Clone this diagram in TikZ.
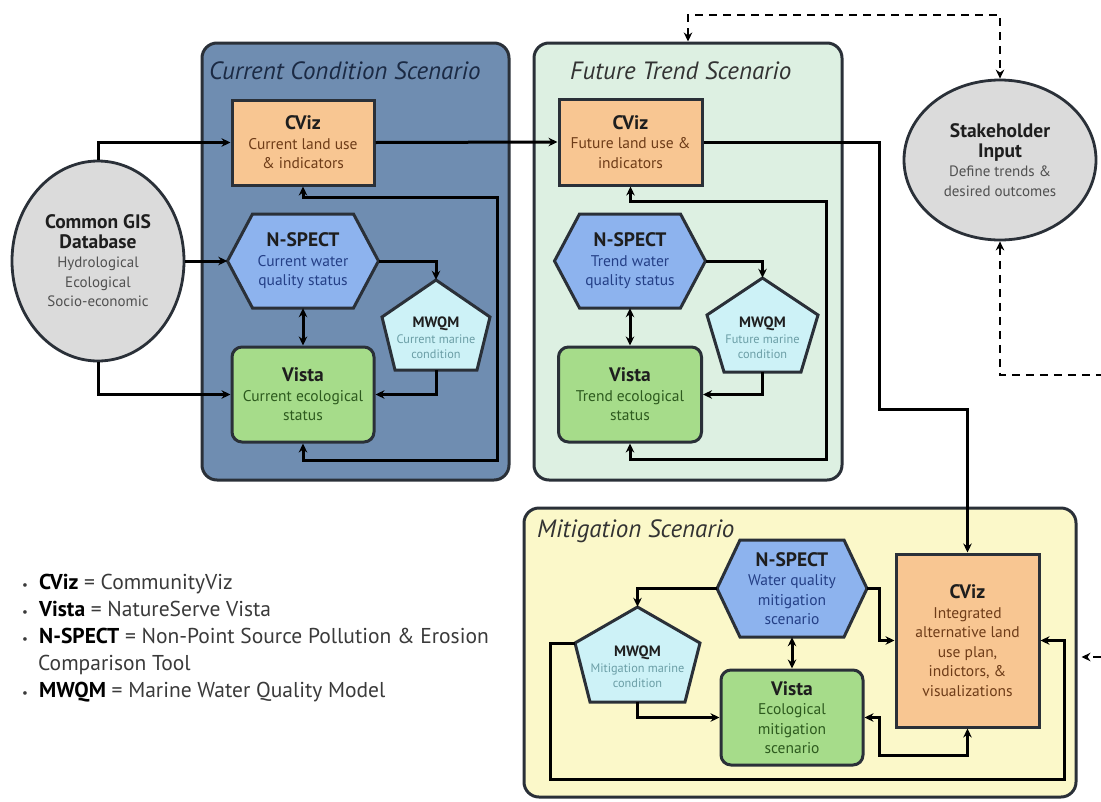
\documentclass[tikz,border=0pt]{standalone}
\usepackage{fontspec}
\setmainfont{PT Sans}
\usetikzlibrary{arrows.meta,shapes.geometric}
\definecolor{curbg}{HTML}{6F8DB1}
\definecolor{curttl}{HTML}{1B2A44}
\definecolor{futbg}{HTML}{DDF0E2}
\definecolor{mitbg}{HTML}{FBF8C9}
\definecolor{edgec}{HTML}{2A3038}
\definecolor{cvizc}{HTML}{F8C692}
\definecolor{nsc}{HTML}{8DB3EE}
\definecolor{mwc}{HTML}{CDF2F7}
\definecolor{vistac}{HTML}{A6DC8A}
\definecolor{ellc}{HTML}{DBDBDB}
\definecolor{cvizt}{HTML}{6E3C18}
\definecolor{nst}{HTML}{243F86}
\definecolor{vistat}{HTML}{2D5A1E}
\definecolor{mwt}{HTML}{6B9EA6}
\definecolor{grayt}{HTML}{505050}
\definecolor{darkt}{HTML}{1E1E1E}
\definecolor{legt}{HTML}{3A3A3A}
\definecolor{scent}{HTML}{333333}

\newcommand\nt[1]{{\fontsize{19.5}{22}\selectfont\bfseries\color{darkt}#1}}
\newcommand\mt[1]{{\fontsize{15}{17}\selectfont\bfseries\color{darkt}#1}}

\newcommand\hexshape[5]{%
  \coordinate (#1-c) at #2;
  \draw[hexs, shift={(#1-c)}] (-#3,0) -- ({-#3+#5},-#4) -- ({#3-#5},-#4) -- (#3,0) -- ({#3-#5},#4) -- ({-#3+#5},#4) -- cycle;
  \node[inner sep=0pt, minimum width={2*#3pt}, minimum height={2*#4pt}] (#1) at (#1-c) {};
}
\newcommand\pentshape[6]{%
  \coordinate (#1-c) at #2;
  \draw[mws, shift={(#1-c)}] (0,-#4) -- (#3,{-#4+#5}) -- ({#3-#6},#4) -- ({-#3+#6},#4) -- (-#3,{-#4+#5}) -- cycle;
  \path[shift={(#1-c)}] (-#3,{-#4+#5}) coordinate (#1-l);
  \node[inner sep=0pt, minimum width={2*#3pt}, minimum height={2*#4pt}] (#1) at (#1-c) {};
}

\begin{document}
\begin{tikzpicture}[x=1pt,y=-1pt,
  scen/.style={draw=edgec, line width=3pt, rounded corners=15pt, inner sep=0pt},
  sttl/.style={anchor=west, font=\fontsize{25}{28}\selectfont\itshape, text=scent, inner sep=0pt},
  cvizs/.style={draw=edgec, line width=3pt, fill=cvizc, inner sep=0pt, align=center,
     font=\fontsize{15.5}{19.5}\selectfont, text=cvizt},
  vistas/.style={draw=edgec, line width=3pt, fill=vistac, rounded corners=10pt, inner sep=0pt, align=center,
     font=\fontsize{15.5}{19.5}\selectfont, text=vistat},
  hexs/.style={draw=edgec, line width=3pt, fill=nsc},
  mws/.style={draw=edgec, line width=3pt, fill=mwc},
  hext/.style={align=center, font=\fontsize{15.5}{19.5}\selectfont, text=nst, inner sep=0pt},
  mwtx/.style={align=center, font=\fontsize{12.3}{15.5}\selectfont, text=mwt, inner sep=0pt},
  ell/.style={ellipse, draw=edgec, line width=2.8pt, fill=ellc, inner sep=0pt, align=center,
     font=\fontsize{15}{19.5}\selectfont, text=grayt},
  arr/.style={line width=3pt, draw=black, -{Stealth[length=9pt,width=8.5pt]}},
  dbl/.style={line width=3pt, draw=black, {Stealth[length=9pt,width=8.5pt]}-{Stealth[length=9pt,width=8.5pt]}},
  dsh/.style={line width=2.8pt, dash pattern=on 8pt off 6pt}
]
\useasboundingbox[fill=white] (0,0) rectangle (1101,801);

% scenario containers
\node[scen, fill=curbg, minimum width=307pt, minimum height=437pt] (cur) at (355.5,261.5) {};
\node[scen, fill=futbg, minimum width=308pt, minimum height=437pt] (fut) at (688,261.5) {};
\node[scen, fill=mitbg, minimum width=552pt, minimum height=289pt] (mit) at (800,652.5) {};
\node[sttl, text=curttl] (curtitle) at (209,71) {Current Condition Scenario};
\node[sttl] (futtitle) at (570,71) {Future Trend Scenario};
\node[sttl] (mittitle) at (537,531) {Mitigation Scenario};

% ellipses
\node[ell, minimum width=172pt, minimum height=200pt] (gis) at (98,261)
  {\nt{Common GIS}\\\nt{Database}\\Hydrological\\Ecological\\Socio-economic};
\node[ell, minimum width=192pt, minimum height=160pt] (stake) at (1000,160)
  {\nt{Stakeholder}\\\nt{Input}\\Define trends \&\\desired outcomes};

% ---------- current condition ----------
\node[cvizs, minimum width=142pt, minimum height=85pt] (cviz1) at (303,142.5)
  {\nt{CViz}\\Current land use\\\& indicators};
\hexshape{ns1}{(303,261)}{75.5}{47}{25}
\node[hext] (ns1-t) at (ns1-c) {\nt{N-SPECT}\\Current water\\quality status};
\pentshape{mw1}{(436,325)}{54}{45}{37}{13}
\node[mwtx] (mw1-t) at (436,338) {\mt{MWQM}\\Current marine\\condition};
\node[vistas, minimum width=142pt, minimum height=95pt] (vista1) at (303,394.5)
  {\nt{Vista}\\Current ecological\\status};

% ---------- future trend ----------
\node[cvizs, minimum width=143pt, minimum height=86pt] (cviz2) at (630.5,142)
  {\nt{CViz}\\Future land use \&\\indicators};
\hexshape{ns2}{(630,261)}{75.5}{47}{25}
\node[hext] (ns2-t) at (ns2-c) {\nt{N-SPECT}\\Trend water\\quality status};
\pentshape{mw2}{(762.5,325)}{55.5}{47}{37}{17}
\node[mwtx] (mw2-t) at (762.5,338) {\mt{MWQM}\\Future marine\\condition};
\node[vistas, minimum width=143pt, minimum height=95pt] (vista2) at (630,394.5)
  {\nt{Vista}\\Trend ecological\\status};

% ---------- mitigation ----------
\node[cvizs, minimum width=143pt, minimum height=173pt] (cviz3) at (967.5,640.5)
  {\nt{CViz}\\Integrated\\alternative land\\use plan,\\indictors, \&\\visualizations};
\hexshape{ns3}{(792,588.5)}{75}{48.5}{23}
\node[hext] (ns3-t) at (ns3-c) {\nt{N-SPECT}\\Water quality\\mitigation\\scenario};
\pentshape{mw3}{(637.5,654.5)}{62.5}{47.5}{36}{15}
\node[mwtx] (mw3-t) at (637.5,667) {\mt{MWQM}\\Mitigation marine\\condition};
\node[vistas, minimum width=142pt, minimum height=95pt] (vista3) at (792,717.5)
  {\nt{Vista}\\Ecological\\mitigation\\scenario};

% ---------- connectors: current ----------
\draw[arr] (gis.north) |- (cviz1.west);
\draw[arr] (gis.east) -- (ns1.west);
\draw[arr] (gis.south) |- (vista1.west);
\draw[dbl] (ns1.south) -- (vista1.north);
\draw[arr] (ns1.east) -| (mw1.north);
\draw[arr] (mw1.south) |- (vista1.east);
\coordinate (l1a) at (497,197);
\coordinate (l1b) at (497,460);
\draw[dbl] (cviz1.south) |- (l1a) -- (l1b) -| (vista1.south);
\draw[arr] (cviz1.east) -- (cviz2.west);

% ---------- connectors: future ----------
\draw[dbl] (ns2.south) -- (vista2.north);
\draw[arr] (ns2.east) -| (mw2.north);
\draw[arr] (mw2.south) |- (vista2.east);
\coordinate (l2a) at (826,201);
\coordinate (l2b) at (826,459);
\draw[dbl] (cviz2.south) |- (l2a) -- (l2b) -| (vista2.south);
\coordinate (l5a) at (879,142);
\coordinate (l5b) at (879,409);
\draw[arr] (cviz2.east) -- (l5a) -- (l5b) -| (cviz3.north);

% ---------- connectors: mitigation ----------
\draw[arr] (ns3.west) -| (mw3.north);
\draw[arr] (mw3.south) |- (vista3.west);
\draw[dbl] (ns3.south) -- (vista3.north);
\draw[arr] (ns3.east) -- ++(12,0) |- (cviz3.west);
\coordinate (l4a) at (879,755);
\draw[dbl] (cviz3.south) |- (l4a) |- (vista3.east);
\coordinate (l3a) at (550,779);
\coordinate (l3b) at (1064,779);
\draw[arr] (mw3-l) -| (l3a) -- (l3b) |- (cviz3.east);

% ---------- stakeholder dashed links ----------
\coordinate (d1) at (688,15);
\coordinate (d2) at (1000,15);
\draw[dbl, dsh] (fut.north) -- (d1) -- (d2) -- (stake.north);
\coordinate (d3) at (1000,375);
\coordinate (d4) at (1101,375);
\draw[line width=2.8pt, dsh, {Stealth[length=9pt,width=8.5pt]}-] (stake.south) -- (d3) -- (d4);
\coordinate (d5) at (1101,657);
\draw[arr, dsh, shorten >=4pt] (d5) -- (mit.east |- d5);

% ---------- legend ----------
\node[anchor=west, align=left, inner sep=0pt, font=\fontsize{21.5}{27}\selectfont, text=legt] (legend) at (22,638.5)
 {\makebox[17pt][l]{\fontsize{13}{13}\selectfont\textbullet}\textcolor{black}{\bfseries CViz} = CommunityViz\\
  \makebox[17pt][l]{\fontsize{13}{13}\selectfont\textbullet}\textcolor{black}{\bfseries Vista} = NatureServe Vista\\
  \makebox[17pt][l]{\fontsize{13}{13}\selectfont\textbullet}\textcolor{black}{\bfseries N-SPECT} = Non-Point Source Pollution \& Erosion\\
  \makebox[16pt][l]{}Comparison Tool\\
  \makebox[17pt][l]{\fontsize{13}{13}\selectfont\textbullet}\textcolor{black}{\bfseries MWQM} = Marine Water Quality Model};
\end{tikzpicture}
\end{document}
